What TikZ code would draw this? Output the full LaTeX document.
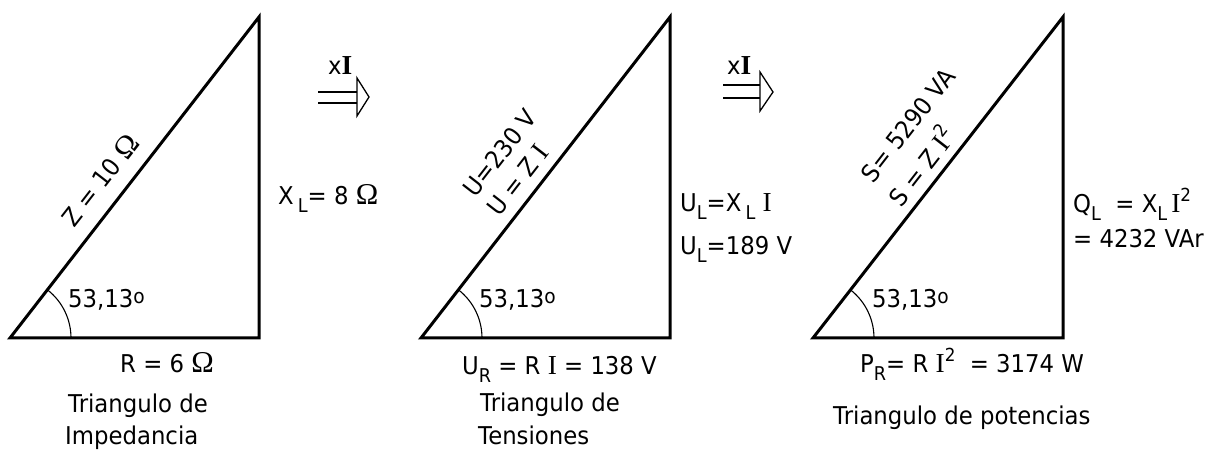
\documentclass[tikz,border=0pt]{standalone}
\usepackage{fontspec}
\usetikzlibrary{calc}
\setmainfont{DejaVu Sans}[FakeStretch=0.93]
\newfontfamily\serf{Liberation Serif}[Scale=1.12]
\newcommand{\myI}{{\serf I}}
\newcommand{\myOm}{{\serf\fontsize{27}{27}\selectfont Ω}}
\newcommand{\mysub}[1]{\raisebox{-0.32em}{\fontsize{19}{19}\selectfont #1}}
\newcommand{\mysup}[1]{\raisebox{0.45em}{\fontsize{18}{18}\selectfont #1}}
\newcommand{\mydeg}{\raisebox{4.6pt}{\fontsize{20}{20}\selectfont o}}
\begin{document}
\begin{tikzpicture}[x=1pt,y=1pt,
  side/.style={line width=3pt,line join=miter},
  angarc/.style={line width=1.1pt},
  lab/.style={font=\fontsize{24.5}{32}\selectfont,inner sep=0pt},
  dbl/.style={line width=1.5pt},
  headtri/.style={line width=1.3pt,line join=miter}]
\useasboundingbox (0,0) rectangle (1211,450);
% ---------- triangle 1 ----------
\coordinate (A1) at (10,112);
\coordinate (B1) at (259,112);
\coordinate (C1) at (259,433);
\draw[side] (A1) -- (B1) -- (C1) -- cycle;
\draw[angarc] ($(A1)+(61,0)$) arc[start angle=0,end angle=52.2,radius=61pt];
\node[lab,anchor=base west] (ang1) at (68,142) {53,13\mydeg};
\node[lab,rotate=52.2] (z1) at (100,270) {Z = 10 \myOm};
\node[lab,anchor=base west] (xl1) at (278,245) {X\,\mysub{L}= 8 \myOm};
\node[lab,anchor=base west] (r1) at (120,77) {R = 6 \myOm};
\node[lab,anchor=base west] (t1a) at (68,37) {Triangulo de};
\node[lab,anchor=base west] (t1b) at (65,5) {Impedancia};
% ---------- arrow 1 ----------
\node[lab,anchor=base west] (x1) at (328,375) {x{\serf\bfseries I}};
\coordinate (a1s) at (318,358);
\coordinate (a1e) at (357,358);
\coordinate (a1s2) at (318,347);
\coordinate (a1e2) at (357,347);
\draw[dbl] (a1s) -- (a1e);
\draw[dbl] (a1s2) -- (a1e2);
\coordinate (h1a) at (357,372);
\coordinate (h1b) at (369,353);
\coordinate (h1c) at (357,334);
\draw[headtri] (h1a) -- (h1b) -- (h1c) -- cycle;
% ---------- triangle 2 ----------
\coordinate (A2) at (421,112);
\coordinate (B2) at (670,112);
\coordinate (C2) at (670,433);
\draw[side] (A2) -- (B2) -- (C2) -- cycle;
\draw[angarc] ($(A2)+(61,0)$) arc[start angle=0,end angle=52.2,radius=61pt];
\node[lab,anchor=base west] (ang2) at (479,142) {53,13\mydeg};
\node[lab,rotate=52.2] (u2a) at (500,297) {U=230 V};
\node[lab,rotate=52.2] (u2b) at (518,270) {U = Z \myI};
\node[lab,anchor=base west] (ul2a) at (680,238) {U\mysub{L}=X\,\mysub{L} \myI};
\node[lab,anchor=base west] (ul2b) at (680,195) {U\mysub{L}=189 V};
\node[lab,anchor=base west] (ur2) at (462,75) {U\mysub{R} = R \myI{} = 138 V};
\node[lab,anchor=base west] (t2a) at (480,38) {Triangulo de};
\node[lab,anchor=base west] (t2b) at (478,5) {Tensiones};
% ---------- arrow 2 ----------
\node[lab,anchor=base west] (x2) at (727,375) {x{\serf\bfseries I}};
\coordinate (a2s) at (723,365);
\coordinate (a2e) at (760,365);
\coordinate (a2s2) at (723,352);
\coordinate (a2e2) at (760,352);
\draw[dbl] (a2s) -- (a2e);
\draw[dbl] (a2s2) -- (a2e2);
\coordinate (h2a) at (760,378);
\coordinate (h2b) at (773,358);
\coordinate (h2c) at (760,339);
\draw[headtri] (h2a) -- (h2b) -- (h2c) -- cycle;
% ---------- triangle 3 ----------
\coordinate (A3) at (813,112);
\coordinate (B3) at (1063,112);
\coordinate (C3) at (1063,433);
\draw[side] (A3) -- (B3) -- (C3) -- cycle;
\draw[angarc] ($(A3)+(61,0)$) arc[start angle=0,end angle=52.2,radius=61pt];
\node[lab,anchor=base west] (ang3) at (872,142) {53,13\mydeg};
\node[lab,rotate=52.2] (s3a) at (908,325) {S= 5290 VA};
\node[lab,rotate=52.2] (s3b) at (920,285) {S = Z \myI\mysup{2}};
\node[lab,anchor=base west] (q3a) at (1073,237) {Q\mysub{L}\ \ = X\mysub{L}\,\myI\mysup{2}};
\node[lab,anchor=base west] (q3b) at (1073,202) {= 4232 VAr};
\node[lab,anchor=base west] (p3) at (860,77) {P\mysub{R}= R \myI\mysup{2}\ \ = 3174 W};
\node[lab,anchor=base west] (t3) at (833,25) {Triangulo de potencias};
\end{tikzpicture}
\end{document}
